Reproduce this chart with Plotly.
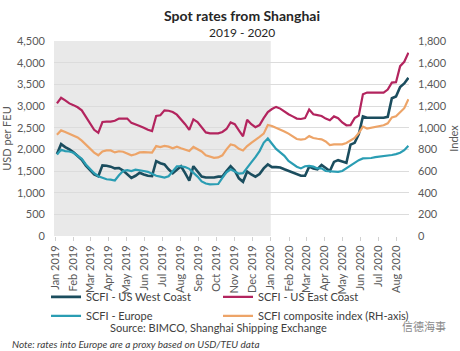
import pandas as pd
import plotly.graph_objects as go

# Weekly SCFI observations (Fridays), Jan 2019 - Aug 2020
weeks = pd.date_range("2019-01-04", periods=86, freq="7D")

us_west_coast = [
    1890, 2120, 2050, 2000, 1930, 1850, 1760, 1620, 1510, 1420,
    1380, 1630, 1620, 1600, 1560, 1570, 1510, 1420, 1340, 1390,
    1460, 1420, 1390, 1380, 1730, 1680, 1650, 1540, 1450, 1530,
    1610, 1450, 1280, 1610, 1480, 1370, 1350, 1350, 1350, 1370,
    1370, 1500, 1610, 1510, 1330, 1250, 1490, 1420, 1370, 1430,
    1560, 1650, 1590, 1590, 1580, 1540, 1500, 1460, 1420, 1390,
    1390, 1600, 1560, 1540, 1640, 1580, 1500, 1710, 1750, 1720,
    1690, 2110, 2150, 2350, 2760, 2730, 2730, 2730, 2730, 2730,
    2750, 3180, 3220, 3440, 3520, 3650,
]
us_east_coast = [
    3060, 3190, 3130, 3060, 3020, 2970, 2900, 2750, 2590, 2450,
    2380, 2630, 2640, 2640, 2660, 2710, 2710, 2710, 2610, 2580,
    2540, 2500, 2450, 2420, 2770, 2785, 2900, 2890, 2860, 2800,
    2700, 2580, 2450, 2690, 2630, 2500, 2390, 2370, 2370, 2370,
    2400, 2470, 2620, 2580, 2440, 2300, 2680, 2580, 2510, 2560,
    2720, 2860, 2930, 2980, 2940, 2870, 2810, 2760, 2710, 2700,
    2720, 2920, 2810, 2790, 2770, 2710, 2670, 2760, 2720, 2620,
    2555, 2560, 2720, 2780, 3270, 3310, 3310, 3310, 3310, 3310,
    3380, 3540, 3550, 3920, 4020, 4230,
]
europe = [
    1880, 1990, 1960, 1950, 1920, 1860, 1780, 1650, 1540, 1450,
    1380, 1340, 1310, 1300, 1280, 1400, 1500, 1520, 1500, 1530,
    1520, 1500, 1480, 1440, 1390, 1370, 1350, 1380, 1500, 1610,
    1610, 1590, 1550, 1470, 1370, 1260, 1210, 1190, 1190, 1200,
    1340, 1470, 1540, 1480, 1440, 1450, 1590, 1700, 1820, 1960,
    2150, 2250, 2130, 2010, 1930, 1850, 1730, 1660, 1600, 1560,
    1610, 1620, 1600, 1560, 1560, 1500, 1490, 1480, 1480, 1500,
    1560, 1620, 1700, 1750, 1790, 1790, 1800, 1820, 1830, 1840,
    1850, 1870, 1890, 1920, 1980, 2080,
]
composite_index = [
    935, 975, 960, 945, 930, 910, 880, 840, 805, 770,
    745, 780, 790, 790, 772, 782, 778, 762, 745, 755,
    772, 775, 775, 770, 830, 820, 832, 825, 810, 825,
    810, 795, 785, 822, 800, 780, 745, 730, 722, 725,
    745, 800, 845, 835, 805, 790, 830, 860, 885, 915,
    945, 1025, 1015, 1000, 985, 965, 945, 920, 895, 890,
    895, 922, 905, 898, 892, 872, 840, 845, 848, 846,
    858, 878, 905, 950, 1010, 992, 998, 1008, 1015, 1022,
    1040, 1095, 1105, 1145, 1180, 1262,
]

series_names = ["SCFI - US West Coast", "SCFI - US East Coast",
                "SCFI - Europe", "SCFI composite index (RH-axis)"]
colors = ["#1b4d5e", "#b3245e", "#2a9db3", "#eda468"]

FONT = "Lato"
TXT = "#595959"

fig = go.Figure()
fig.add_trace(go.Scatter(x=weeks, y=us_west_coast, name=series_names[0], mode="lines",
                         legend="legend", line=dict(color=colors[0], width=2.6)))
fig.add_trace(go.Scatter(x=weeks, y=us_east_coast, name=series_names[1], mode="lines",
                         legend="legend2", line=dict(color=colors[1], width=2.2)))
fig.add_trace(go.Scatter(x=weeks, y=europe, name=series_names[2], mode="lines",
                         legend="legend", line=dict(color=colors[2], width=2.2)))
fig.add_trace(go.Scatter(x=weeks, y=composite_index, name=series_names[3], mode="lines",
                         legend="legend2", yaxis="y2", line=dict(color=colors[3], width=2.2)))

# 2019 shading
fig.add_shape(type="rect", xref="x", yref="paper", x0="2018-12-30", x1="2020-01-01",
              y0=0, y1=1, fillcolor="#e9e9e9", line_width=0, layer="below")

legend_common = dict(orientation="v", yanchor="top", y=-0.238, xanchor="left",
                     font=dict(family=FONT, size=11, color="#404040"),
                     itemwidth=30, bgcolor="rgba(0,0,0,0)", borderwidth=0,
                     tracegroupgap=0)

fig.update_layout(
    width=460, height=351,
    margin=dict(l=54, r=51, t=41, b=115, autoexpand=False),
    paper_bgcolor="white", plot_bgcolor="white",
    font=dict(family=FONT, size=11, color=TXT),
    showlegend=True,
    legend=dict(x=-0.0225, **legend_common),
    legend2=dict(x=0.462, **legend_common),
    xaxis=dict(type="date", range=["2018-12-30", "2020-08-22"],
               tick0="2019-01-01", dtick="M1", tickformat="%b %Y", tickangle=-90,
               showgrid=False, ticks="outside", ticklen=4, tickcolor="#d0d0d0",
               showline=False, zeroline=False,
               tickfont=dict(size=11, color=TXT)),
    yaxis=dict(range=[0, 4500], dtick=500, tickformat=",", gridcolor="#dcdcdc",
               zeroline=False, showline=False, ticklabelstandoff=8,
               title=dict(text="USD per FEU", font=dict(size=11, color=TXT), standoff=6)),
    yaxis2=dict(range=[0, 1800], dtick=200, tickformat=",", overlaying="y", side="right",
                showgrid=False, zeroline=False, showline=False, ticklabelstandoff=8,
                title=dict(text="Index", font=dict(size=11, color=TXT), standoff=6)),
    annotations=[
        dict(text="<b>Spot rates from Shanghai</b>", xref="paper", yref="paper",
             x=0.53, y=1.0, yshift=26, showarrow=False, yanchor="middle",
             font=dict(size=14, color="#262626", family=FONT)),
        dict(text="2019 - 2020", xref="paper", yref="paper", x=0.53, y=1.0, yshift=9,
             showarrow=False, yanchor="middle",
             font=dict(size=12, color="#262626", family=FONT)),
        dict(text="Source: BIMCO, Shanghai Shipping Exchange", xref="paper", yref="paper",
             x=0.462, y=-0.468, showarrow=False, xanchor="center", yanchor="middle",
             font=dict(size=11, color="#404040", family=FONT)),
        dict(text="<i>Note: rates into Europe are a proxy based on USD/TEU data</i>",
             xref="paper", yref="paper", x=-0.124, y=-0.552, showarrow=False,
             xanchor="left", yanchor="middle",
             font=dict(size=10, color="#404040", family=FONT)),
        dict(text="信德海事", xref="paper", yref="paper", x=1.042, y=-0.4615,
             showarrow=False, xanchor="center", yanchor="middle",
             font=dict(size=11, color="#8a8a8a", family="Noto Sans CJK SC")),
    ],
)

fig.write_html("out.html")
